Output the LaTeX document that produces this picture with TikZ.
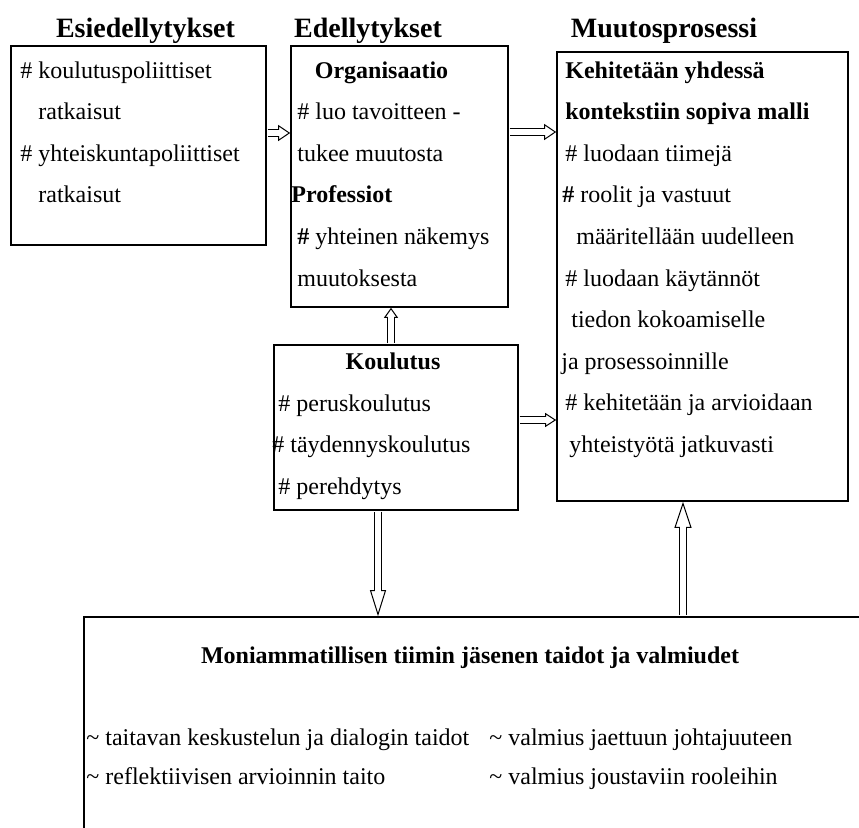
\documentclass[tikz,border=0pt]{standalone}
\usepackage{fontspec}
\setmainfont{Liberation Serif}
\usetikzlibrary{arrows.meta, fit, positioning}

\tikzset{
  box/.style={draw=black, line width=0.8pt, inner sep=0pt},
  txt/.style={anchor=base west, inner sep=0pt, font=\fontsize{12}{14}\selectfont},
  mid/.style={anchor=base, inner sep=0pt, font=\fontsize{12}{14}\selectfont\bfseries},
  head/.style={anchor=base, inner sep=0pt, font=\fontsize{14}{16}\selectfont\bfseries},
  push/.style 2 args={draw=white, line width=0.3pt, shorten <=0.4pt,
    -{Triangle[color=black, fill=white, line width=0.5pt, length=#1, width=#2]},
    preaction={draw=black, -, double=white, double distance=3pt, line width=0.5pt, shorten >=#1-1pt},
    postaction={draw=white, -, line width=2.6pt, shorten <=1pt, shorten >=#1-1.2pt}},
}

\begin{document}
\begin{tikzpicture}[x=0.5pt, y=-0.5pt]
  \useasboundingbox (0,0) rectangle (859,827);
  \clip (0,0) rectangle (859,827);

  % column headings
  \node[head] (h1) at (145.5,37) {Esiedellytykset};
  \node[head] (h2) at (368,37) {Edellytykset};
  \node[head] (h3) at (664,37) {Muutosprosessi};

  % boxes
  \node[box, fit={(11,46) (266,245)}] (esi) {};
  \node[box, fit={(291,46) (508,307)}] (ede) {};
  \node[box, fit={(557,52) (848,501)}] (muu) {};
  \node[box, fit={(274,345) (518,510)}] (kou) {};
  \node[box, fit={(84,617) (900,900)}] (moni) {};

  % Esiedellytykset
  \foreach \xx/\txt [count=\r] in {20/{\# koulutuspoliittiset}, 38/ratkaisut,
      20/{\# yhteiskuntapoliittiset}, 38/ratkaisut}
    \node[txt] (esi\r) at (\xx, {36.4+41.6*\r}) {\txt};

  % Edellytykset
  \node[mid] (ede1) at (381.5,78) {Organisaatio};
  \foreach \xx/\txt [count=\r from 2] in {297/{\# luo tavoitteen -}, 297/{tukee muutosta},
      291/{\textbf{Professiot}}, 297/{\textbf{\#} yhteinen näkemys}, 297/muutoksesta}
    \node[txt] (ede\r) at (\xx, {36.4+41.6*\r}) {\txt};

  % Muutosprosessi
  \foreach \xx/\txt [count=\r] in {565/{\textbf{Kehitetään yhdessä}},
      565/{\textbf{kontekstiin sopiva malli}}, 565/{\# luodaan tiimejä},
      562/{\textbf{\#} roolit ja vastuut}, 576/{määritellään uudelleen},
      565/{\# luodaan käytännöt}, 571/{tiedon kokoamiselle}, 561/{ja prosessoinnille},
      565/{\# kehitetään ja arvioidaan}, 569/{yhteistyötä jatkuvasti}}
    \node[txt] (muu\r) at (\xx, {36.4+41.6*\r}) {\txt};

  % Koulutus
  \node[mid] (kou1) at (393,369) {Koulutus};
  \foreach \xx/\txt [count=\r from 2] in {278/{\# peruskoulutus},
      272/{\# täydennyskoulutus}, 278/{\# perehdytys}}
    \node[txt] (kou\r) at (\xx, {328+41.6*\r}) {\txt};

  % taidot ja valmiudet
  \node[mid] (moni1) at (470,663) {Moniammatillisen tiimin jäsenen taidot ja valmiudet};
  \node[txt] (moni2) at (86,745) {\textasciitilde{} taitavan keskustelun ja dialogin taidot};
  \node[txt] (moni3) at (489,745) {\textasciitilde{} valmius jaettuun johtajuuteen};
  \node[txt] (moni4) at (86,784) {\textasciitilde{} reflektiivisen arvioinnin taito};
  \node[txt] (moni5) at (489,784) {\textasciitilde{} valmius joustaviin rooleihin};

  % arrows
  \draw[push={6pt}{8pt}] ([yshift=6.25pt]esi.east) -- ([yshift=6.25pt]esi.east -| ede.west);
  \draw[push={6pt}{8pt}] ([yshift=22.25pt]ede.east) -- ([yshift=22.25pt]ede.east -| muu.west);
  \draw[push={5pt}{7pt}] ([xshift=-2.5pt]kou.north) -- ([xshift=-2.5pt]kou.north |- ede.south);
  \draw[push={5.5pt}{7pt}] ([yshift=3.75pt]kou.east) -- ([yshift=3.75pt]kou.east -| muu.west);
  \draw[push={13pt}{8pt}] ([xshift=-9pt]kou.south) -- ([xshift=-9pt]kou.south |- moni.north);
  \draw[push={13pt}{8.5pt}] ([xshift=-9.75pt]muu.south |- moni.north) -- ([xshift=-9.75pt]muu.south);
\end{tikzpicture}
\end{document}
